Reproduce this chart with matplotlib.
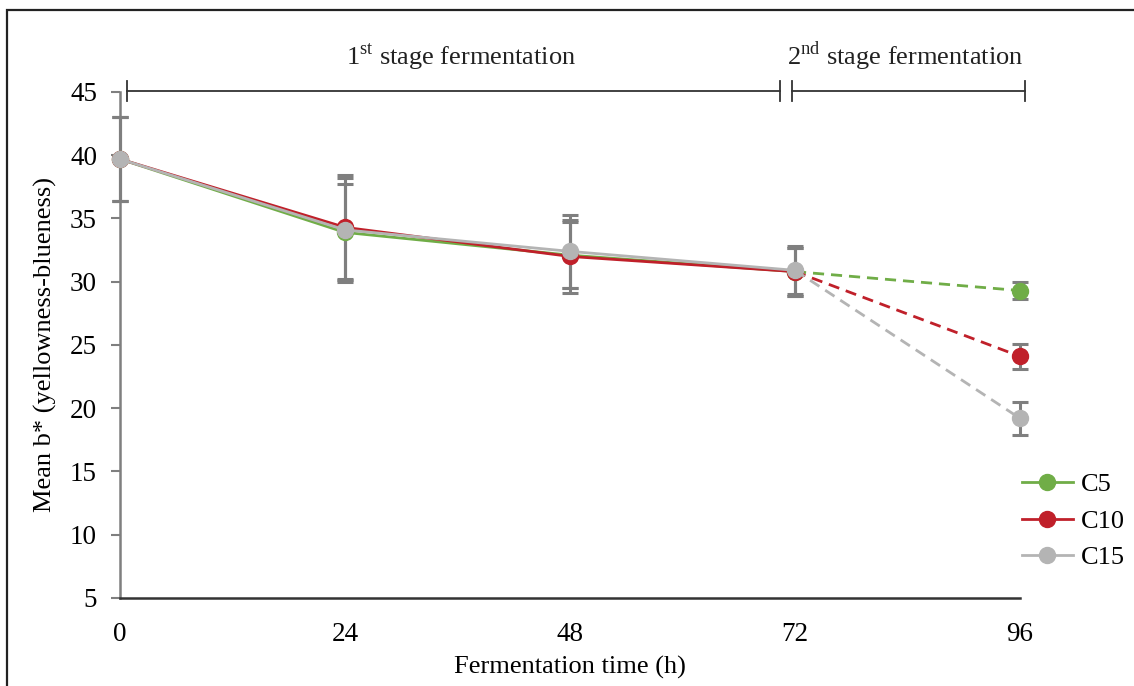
import matplotlib
matplotlib.use("Agg")
import matplotlib.pyplot as plt
from matplotlib.lines import Line2D
from matplotlib.patches import Rectangle

plt.rcParams["font.family"] = ["Liberation Serif", "DejaVu Serif"]
plt.rcParams["mathtext.fontset"] = "custom"
plt.rcParams["mathtext.rm"] = "Liberation Serif"

# data
hours = [0, 24, 48, 72, 96]
c5 = [39.7, 33.9, 32.1, 30.8, 29.3]
c10 = [39.7, 34.3, 32.0, 30.8, 24.1]
c15 = [39.7, 34.1, 32.4, 30.9, 19.2]
c5_err = [3.3, 3.8, 2.6, 1.9, 0.65]
c10_err = [3.3, 4.1, 2.9, 1.9, 1.0]
c15_err = [3.3, 4.1, 2.9, 1.9, 1.3]
labels = ["C5", "C10", "C15"]
colors = ["#70ad47", "#c0202a", "#b4b4b4"]
yticks = [5, 10, 15, 20, 25, 30, 35, 40, 45]

fig = plt.figure(figsize=(11.34, 6.86), dpi=100)
ax = fig.add_axes([0.1058, 0.1283, 0.7937, 0.7376])

err_col = "#7f7f7f"
series = [(c5, c5_err), (c10, c10_err), (c15, c15_err)]
for i, (vals, err) in enumerate(series):
    ax.errorbar(hours, vals, yerr=err, fmt="none", ecolor=err_col,
                elinewidth=2.2, capsize=6, capthick=2.2, zorder=2 + i * 0.1,
                clip_on=False)
for i, (vals, err) in enumerate(series):
    z = 3 + i
    ax.plot(hours[:4], vals[:4], color=colors[i], lw=2.0, zorder=z, clip_on=False)
    ax.plot(hours[3:], vals[3:], color=colors[i], lw=2.0, ls=(0, (4, 2.5)),
            zorder=z, clip_on=False)
    ax.plot(hours, vals, ls="none", marker="o", ms=11.5, color=colors[i],
            zorder=z + 0.5, clip_on=False)

ax.set_xlim(0, 96)
ax.set_ylim(5, 45)
ax.set_xticks(hours)
ax.set_yticks(yticks)
ax.tick_params(axis="x", length=0, pad=17, labelsize=19.5)
ax.tick_params(axis="y", direction="out", length=6.5, width=1.5,
               color="#7f7f7f", pad=10, labelsize=19.5)
for s in ["top", "right"]:
    ax.spines[s].set_visible(False)
ax.spines["left"].set_color("#7f7f7f")
ax.spines["left"].set_linewidth(1.8)
ax.spines["bottom"].set_color("#333333")
ax.spines["bottom"].set_linewidth(1.8)

ax.set_xlabel("Fermentation time (h)", fontsize=19, labelpad=7)
ax.set_ylabel("Mean b* (yellowness-blueness)", fontsize=19, labelpad=9)

# stage brackets above the plot
br = dict(color="#333333", lw=1.3, clip_on=False)
ax.plot([0.75, 70.4], [45.08, 45.08], **br)
ax.plot([0.75, 0.75], [44.3, 45.87], **br)
ax.plot([70.4, 70.4], [44.3, 45.87], **br)
ax.plot([71.7, 96.5], [45.08, 45.08], **br)
ax.plot([71.7, 71.7], [44.3, 45.87], **br)
ax.plot([96.5, 96.5], [44.3, 45.87], **br)
ax.text(36.4, 47.8, r"1$^{\rm st}$ stage fermentation", ha="center",
        va="center", fontsize=19, color="#222222")
ax.text(83.8, 47.8, r"2$^{\rm nd}$ stage fermentation", ha="center",
        va="center", fontsize=19, color="#222222")

handles = [Line2D([], [], color=c, lw=2.0, marker="o", ms=11.5) for c in colors]
fig.legend(handles, labels, loc="upper left", bbox_to_anchor=(0.901, 0.311),
           frameon=False, fontsize=19, handlelength=1.95, handletextpad=0.3,
           labelspacing=0.5, borderpad=0, borderaxespad=0)

# outer frame of the figure
fig.patches.append(Rectangle((7 / 1134, -0.2), 1.5, 1.2 - 10 / 686,
                             transform=fig.transFigure, fill=False,
                             edgecolor="#222222", lw=1.6))

fig.savefig("out.png", dpi=100)
